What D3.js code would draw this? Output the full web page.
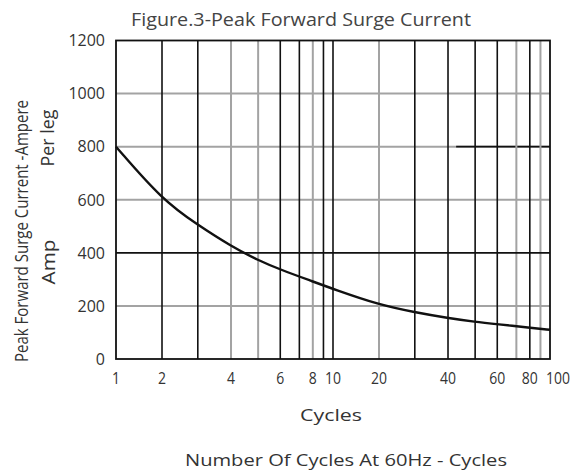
<!DOCTYPE html>
<html>
<head>
<meta charset="utf-8">
<script src="https://cdn.jsdelivr.net/npm/d3@7"></script>
<style>
	body { margin: 0; background: #fff; }
	text { font-family: "Open Sans", "DejaVu Sans", sans-serif; fill: #333; }
</style>
</head>
<body>
<div id="chart"></div>
<script>
// curve: cycles vs peak surge current (A)
var cycles = [1, 2, 3, 4, 5, 6, 8, 10, 20, 30, 40, 50, 60, 80, 100];
var amps = [800, 600, 505, 425, 372, 337, 292, 264, 204, 176, 154, 140, 131, 118, 110];

var xTickLabels = [1, 2, 4, 6, 8, 10, 20, 40, 60, 80, 100];
var yTickLabels = [0, 200, 400, 600, 800, 1000, 1200];
var blackGridX = [2, 3, 6, 7, 9, 10, 30, 40, 50, 60, 80];
var grayGridX = [4, 5, 8, 20, 70, 90];
var blackGridY = [400];
var grayGridY = [200, 600, 800, 1000];

var width = 573;
var height = 470;

var svg = d3.select("#chart").append("svg")
		.attr("width", width).attr("height", height);

// the printed paper isn't a true log grid, the minor lines are squeezed towards the left
var decadeFrac = d3.scaleLinear()
		.domain([1, 2, 3, 4, 5, 6, 7, 8, 9, 10])
		.range([0, 0.212, 0.377, 0.53, 0.655, 0.757, 0.845, 0.907, 0.956, 1]);
var xDecade = d3.scaleLinear().domain([0, 2]).range([116, 550]);
var x = function(v) {
	var d = Math.min(Math.floor(Math.log10(v) + 1e-9), 1);
	return xDecade(d + decadeFrac(v / Math.pow(10, d)));
};
var y = d3.scaleLinear().domain([0, 1200]).range([359, 40.5]);

var grid = svg.append("g");

grid.selectAll("line.gy").data(grayGridY).enter().append("line")
	.attr("x1", x(1)).attr("x2", x(100))
	.attr("y1", function(d) { return y(d); }).attr("y2", function(d) { return y(d); })
	.attr("stroke", "#a3a3a3").attr("stroke-width", 2);

// stretch of the 800 line printed darker on the right
grid.append("line")
	.attr("x1", x(43)).attr("x2", x(100))
	.attr("y1", y(800)).attr("y2", y(800))
	.attr("stroke", "#111").attr("stroke-width", 1.6);

grid.selectAll("line.gx").data(grayGridX).enter().append("line")
	.attr("x1", function(d) { return x(d); }).attr("x2", function(d) { return x(d); })
	.attr("y1", y(0)).attr("y2", y(1200))
	.attr("stroke", "#a3a3a3").attr("stroke-width", 2);

grid.selectAll("line.by").data(blackGridY).enter().append("line")
	.attr("x1", x(1)).attr("x2", x(100))
	.attr("y1", function(d) { return y(d); }).attr("y2", function(d) { return y(d); })
	.attr("stroke", "#111").attr("stroke-width", 1.6);

grid.selectAll("line.bx").data(blackGridX).enter().append("line")
	.attr("x1", function(d) { return x(d); }).attr("x2", function(d) { return x(d); })
	.attr("y1", y(0)).attr("y2", y(1200))
	.attr("stroke", "#111").attr("stroke-width", 1.6);

svg.append("rect")
	.attr("x", x(1)).attr("y", y(1200))
	.attr("width", x(100) - x(1)).attr("height", y(0) - y(1200))
	.attr("fill", "none").attr("stroke", "#111").attr("stroke-width", 1.8);

var line = d3.line()
	.x(function(d, i) { return x(cycles[i]); })
	.y(function(d) { return y(d); })
	.curve(d3.curveBasis);

svg.append("path")
	.attr("d", line(amps))
	.attr("fill", "none").attr("stroke", "#111").attr("stroke-width", 2.4);

svg.selectAll("text.yt").data(yTickLabels).enter().append("text")
	.attr("x", 105).attr("y", function(d) { return y(d); })
	.attr("dy", "0.36em").attr("text-anchor", "end")
	.style("font-size", "16px")
	.text(function(d) { return d; });

svg.selectAll("text.xt").data(xTickLabels).enter().append("text")
	.attr("x", function(d) { return d === 100 ? x(d) - 4 : x(d); }).attr("y", 384)
	.attr("text-anchor", function(d) { return d === 100 ? "start" : "middle"; })
	.attr("textLength", function(d) { return String(d).length * 8; })
	.attr("lengthAdjust", "spacingAndGlyphs")
	.style("font-size", "16px")
	.text(function(d) { return d; });

svg.append("text")
	.attr("x", 301).attr("y", 26).attr("text-anchor", "middle")
	.attr("textLength", 340).attr("lengthAdjust", "spacingAndGlyphs")
	.style("font-size", "18px").style("fill", "#444")
	.text("Figure.3-Peak Forward Surge Current");

svg.append("text")
	.attr("x", 331).attr("y", 421).attr("text-anchor", "middle")
	.attr("textLength", 62).attr("lengthAdjust", "spacingAndGlyphs")
	.style("font-size", "17px")
	.text("Cycles");

svg.append("text")
	.attr("x", 346).attr("y", 466).attr("text-anchor", "middle")
	.attr("textLength", 322).attr("lengthAdjust", "spacingAndGlyphs")
	.style("font-size", "17px")
	.text("Number Of Cycles At 60Hz - Cycles");

svg.append("text")
	.attr("transform", "translate(28,231) rotate(-90)")
	.attr("text-anchor", "middle")
	.attr("textLength", 262).attr("lengthAdjust", "spacingAndGlyphs")
	.style("font-size", "19px")
	.text("Peak Forward Surge Current -Ampere");

svg.append("text")
	.attr("transform", "translate(54,138) rotate(-90)")
	.attr("text-anchor", "middle")
	.attr("textLength", 57).attr("lengthAdjust", "spacingAndGlyphs")
	.style("font-size", "18px")
	.text("Per leg");

svg.append("text")
	.attr("transform", "translate(55,262) rotate(-90)")
	.attr("text-anchor", "middle")
	.attr("textLength", 45).attr("lengthAdjust", "spacingAndGlyphs")
	.style("font-size", "19px")
	.text("Amp");
</script>
</body>
</html>
